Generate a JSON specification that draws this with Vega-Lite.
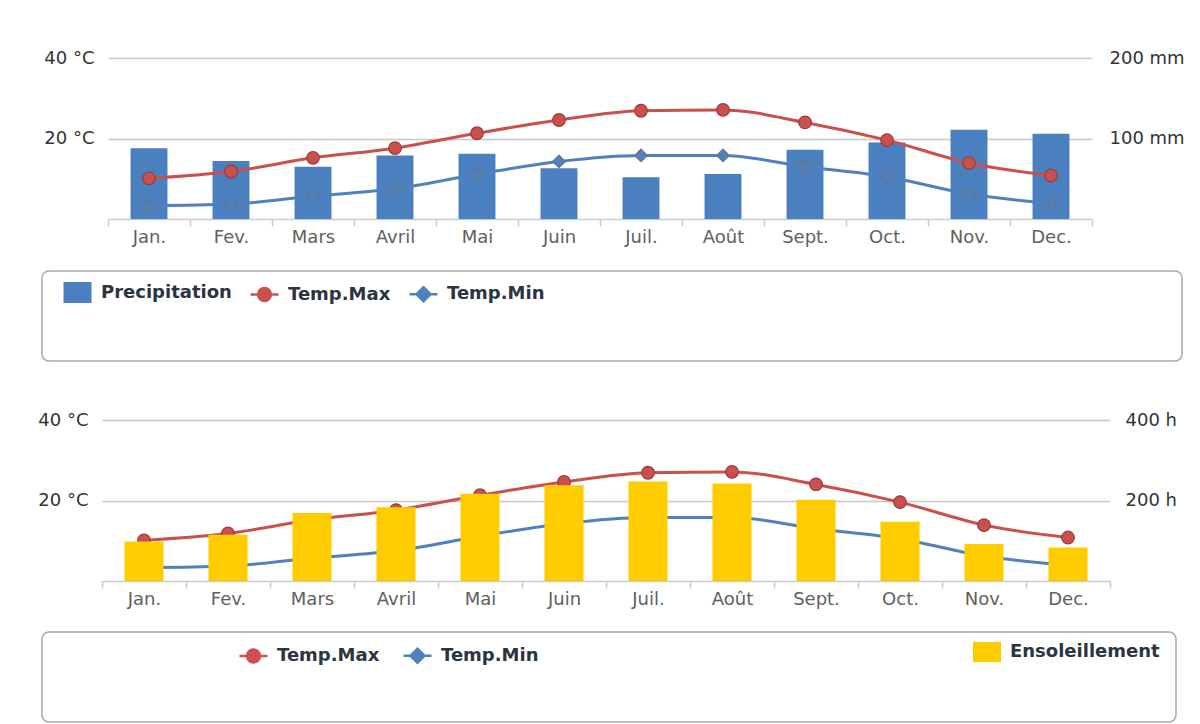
{
  "$schema": "https://vega.github.io/schema/vega-lite/v6.json",
  "padding": {"left": 37, "top": 49, "right": 0, "bottom": 0},
  "background": "white",
  "config": {
    "font": "DejaVu Sans",
    "view": {"stroke": null},
    "axis": {"labelFont": "DejaVu Sans", "labelFontSize": 18},
    "legend": {"labelFont": "DejaVu Sans"}
  },
  "datasets": {
    "temps": [
      {"month": "Jan.", "series": "Temp.Max", "value": 10.1},
      {"month": "Fev.", "series": "Temp.Max", "value": 11.8},
      {"month": "Mars", "series": "Temp.Max", "value": 15.2},
      {"month": "Avril", "series": "Temp.Max", "value": 17.6},
      {"month": "Mai", "series": "Temp.Max", "value": 21.3},
      {"month": "Juin", "series": "Temp.Max", "value": 24.6},
      {"month": "Juil.", "series": "Temp.Max", "value": 26.9},
      {"month": "Août", "series": "Temp.Max", "value": 27.1},
      {"month": "Sept.", "series": "Temp.Max", "value": 24.0},
      {"month": "Oct.", "series": "Temp.Max", "value": 19.6},
      {"month": "Nov.", "series": "Temp.Max", "value": 13.9},
      {"month": "Dec.", "series": "Temp.Max", "value": 10.8},
      {"month": "Jan.", "series": "Temp.Min", "value": 3.3},
      {"month": "Fev.", "series": "Temp.Min", "value": 3.7},
      {"month": "Mars", "series": "Temp.Min", "value": 5.7},
      {"month": "Avril", "series": "Temp.Min", "value": 7.5},
      {"month": "Mai", "series": "Temp.Min", "value": 11.1},
      {"month": "Juin", "series": "Temp.Min", "value": 14.3},
      {"month": "Juil.", "series": "Temp.Min", "value": 15.8},
      {"month": "Août", "series": "Temp.Min", "value": 15.8},
      {"month": "Sept.", "series": "Temp.Min", "value": 13.0},
      {"month": "Oct.", "series": "Temp.Min", "value": 10.5},
      {"month": "Nov.", "series": "Temp.Min", "value": 6.2},
      {"month": "Dec.", "series": "Temp.Min", "value": 3.9}
    ],
    "precip": [
      {"month": "Jan.", "series": "Precipitation", "value": 88},
      {"month": "Fev.", "series": "Precipitation", "value": 72},
      {"month": "Mars", "series": "Precipitation", "value": 65},
      {"month": "Avril", "series": "Precipitation", "value": 79},
      {"month": "Mai", "series": "Precipitation", "value": 81},
      {"month": "Juin", "series": "Precipitation", "value": 63},
      {"month": "Juil.", "series": "Precipitation", "value": 52},
      {"month": "Août", "series": "Precipitation", "value": 56},
      {"month": "Sept.", "series": "Precipitation", "value": 86},
      {"month": "Oct.", "series": "Precipitation", "value": 95},
      {"month": "Nov.", "series": "Precipitation", "value": 111},
      {"month": "Dec.", "series": "Precipitation", "value": 106}
    ],
    "sun": [
      {"month": "Jan.", "series": "Ensoleillement", "value": 98},
      {"month": "Fev.", "series": "Ensoleillement", "value": 115},
      {"month": "Mars", "series": "Ensoleillement", "value": 169},
      {"month": "Avril", "series": "Ensoleillement", "value": 183},
      {"month": "Mai", "series": "Ensoleillement", "value": 217},
      {"month": "Juin", "series": "Ensoleillement", "value": 238},
      {"month": "Juil.", "series": "Ensoleillement", "value": 247},
      {"month": "Août", "series": "Ensoleillement", "value": 242},
      {"month": "Sept.", "series": "Ensoleillement", "value": 202},
      {"month": "Oct.", "series": "Ensoleillement", "value": 147},
      {"month": "Nov.", "series": "Ensoleillement", "value": 92},
      {"month": "Dec.", "series": "Ensoleillement", "value": 83}
    ]
  },
  "spacing": 49,
  "resolve": {"scale": {"color": "independent", "fill": "independent", "stroke": "independent", "shape": "independent"}},
  "vconcat": [
    {
      "spacing": 24,
      "resolve": {"scale": {"color": "independent", "fill": "independent", "stroke": "independent", "shape": "independent"}},
      "vconcat": [
        {
          "width": 1140,
          "height": 161,
          "encoding": {
            "x": {
              "field": "month", "type": "nominal",
              "sort": ["Jan.", "Fev.", "Mars", "Avril", "Mai", "Juin", "Juil.", "Août", "Sept.", "Oct.", "Nov.", "Dec."],
              "scale": {"paddingInner": 0, "paddingOuter": 0, "range": [66, 1050]},
              "axis": {"title": null, "labelAngle": 0, "tickBand": "extent", "domainColor": "#c4ccd6", "domainWidth": 1.5, "tickColor": "#c4ccd6", "tickWidth": 1.5, "tickSize": 7, "labelPadding": 2, "labelColor": "#606060", "labelFontSize": 18, "grid": false}
            }
          },
          "layer": [
            {
              "data": {"name": "precip"},
              "mark": {"type": "bar", "width": {"band": 0.45}, "color": "#4a7fc0"},
              "encoding": {
                "y": {"field": "value", "type": "quantitative", "scale": {"domain": [0, 200]},
                  "axis": {"orient": "right", "offset": -90, "title": null, "values": [100, 200], "labelExpr": "datum.value + ' mm'", "grid": false, "domain": false, "ticks": false, "labelPadding": 17, "labelColor": "#333333", "labelFontSize": 18}}
              }
            },
            {
              "layer": [
                {
                  "data": {"name": "temps"},
                  "mark": {"type": "line", "interpolate": "monotone", "strokeWidth": 3},
                  "encoding": {
                    "y": {"field": "value", "type": "quantitative", "scale": {"domain": [0, 40]},
                      "axis": {"orient": "left", "offset": -66, "title": null, "values": [20, 40], "labelExpr": "datum.value + ' °C'", "grid": true, "gridColor": "#c8c8c8", "gridWidth": 1.5, "domain": false, "ticks": false, "labelPadding": 14, "labelColor": "#333333", "labelFontSize": 18}},
                    "color": {"field": "series", "type": "nominal", "scale": {"domain": ["Temp.Max", "Temp.Min"], "range": ["#c9504c", "#4f81bd"]}, "legend": null}
                  }
                },
                {
                  "data": {"name": "temps"},
                  "mark": {"type": "point", "filled": true, "size": 160, "strokeWidth": 1.2, "opacity": 1},
                  "encoding": {
                    "y": {"field": "value", "type": "quantitative"},
                    "color": {"field": "series", "type": "nominal", "legend": null},
                    "shape": {"field": "series", "type": "nominal", "scale": {"domain": ["Temp.Max", "Temp.Min"], "range": ["circle", "diamond"]}, "legend": null},
                    "stroke": {"field": "series", "type": "nominal", "scale": {"domain": ["Temp.Max", "Temp.Min"], "range": ["#9c3b38", "#6d7580"]}, "legend": null}
                  }
                }
              ]
            }
          ],
          "resolve": {"scale": {"y": "independent"}}
        },
        {
          "width": 1140,
          "height": 90,
          "view": {"stroke": "#a8a8a8", "strokeWidth": 1.5, "cornerRadius": 7},
          "data": {"name": "precip"},
          "mark": {"type": "point", "filled": true, "opacity": 0},
          "encoding": {
            "fill": {
              "field": "series", "type": "nominal",
              "scale": {"domain": ["Precipitation", "Temp.Max", "Temp.Min"], "range": ["#4a7fc0", "#d0504b", "#4f81bd"]},
              "legend": {"orient": "none", "legendX": 20, "legendY": 6, "direction": "horizontal", "title": null, "labelFontSize": 18, "labelFontWeight": "bold", "labelColor": "#2b3440", "symbolSize": 784, "symbolStrokeWidth": 2.5, "symbolOpacity": 1, "labelOffset": 8, "columnPadding": 13, "padding": 0}
            },
            "stroke": {
              "field": "series", "type": "nominal",
              "scale": {"domain": ["Precipitation", "Temp.Max", "Temp.Min"], "range": ["transparent", "#c9504c", "#4f81bd"]},
              "legend": {"orient": "none", "legendX": 20, "legendY": 6, "direction": "horizontal", "title": null, "labelFontSize": 18, "labelFontWeight": "bold", "labelColor": "#2b3440", "symbolSize": 784, "symbolStrokeWidth": 2.5, "symbolOpacity": 1, "labelOffset": 8, "columnPadding": 13, "padding": 0}
            },
            "shape": {
              "field": "series", "type": "nominal",
              "scale": {"domain": ["Precipitation", "Temp.Max", "Temp.Min"], "range": ["M-1,-0.75L1,-0.75L1,0.75L-1,0.75Z", "M-1,0L1,0M0.46,0A0.46,0.46 0 1,1 -0.46,0A0.46,0.46 0 1,1 0.46,0Z", "M-1,0L1,0M0,-0.5L0.5,0L0,0.5L-0.5,0Z"]},
              "legend": {"orient": "none", "legendX": 20, "legendY": 6, "direction": "horizontal", "title": null, "labelFontSize": 18, "labelFontWeight": "bold", "labelColor": "#2b3440", "symbolSize": 784, "symbolStrokeWidth": 2.5, "symbolOpacity": 1, "labelOffset": 8, "columnPadding": 13, "padding": 0}
            }
          }
        }
      ]
    },
    {
      "spacing": 23,
      "resolve": {"scale": {"color": "independent", "fill": "independent", "stroke": "independent", "shape": "independent"}},
      "vconcat": [
        {
          "width": 1134,
          "height": 161,
          "encoding": {
            "x": {
              "field": "month", "type": "nominal",
              "sort": ["Jan.", "Fev.", "Mars", "Avril", "Mai", "Juin", "Juil.", "Août", "Sept.", "Oct.", "Nov.", "Dec."],
              "scale": {"paddingInner": 0, "paddingOuter": 0, "range": [60, 1068]},
              "axis": {"title": null, "labelAngle": 0, "tickBand": "extent", "domainColor": "#c4ccd6", "domainWidth": 1.5, "tickColor": "#c4ccd6", "tickWidth": 1.5, "tickSize": 7, "labelPadding": 2, "labelColor": "#606060", "labelFontSize": 18, "grid": false}
            }
          },
          "layer": [
            {
              "layer": [
                {
                  "data": {"name": "temps"},
                  "mark": {"type": "line", "interpolate": "monotone", "strokeWidth": 3},
                  "encoding": {
                    "y": {"field": "value", "type": "quantitative", "scale": {"domain": [0, 40]},
                      "axis": {"orient": "left", "offset": -60, "title": null, "values": [20, 40], "labelExpr": "datum.value + ' °C'", "grid": true, "gridColor": "#c8c8c8", "gridWidth": 1.5, "domain": false, "ticks": false, "labelPadding": 14, "labelColor": "#333333", "labelFontSize": 18}},
                    "color": {"field": "series", "type": "nominal", "scale": {"domain": ["Temp.Max", "Temp.Min"], "range": ["#c9504c", "#4f81bd"]}, "legend": null}
                  }
                },
                {
                  "data": {"name": "temps"},
                  "mark": {"type": "point", "filled": true, "size": 160, "strokeWidth": 1.2, "opacity": 1},
                  "encoding": {
                    "y": {"field": "value", "type": "quantitative"},
                    "color": {"field": "series", "type": "nominal", "legend": null},
                    "shape": {"field": "series", "type": "nominal", "scale": {"domain": ["Temp.Max", "Temp.Min"], "range": ["circle", "diamond"]}, "legend": null},
                    "stroke": {"field": "series", "type": "nominal", "scale": {"domain": ["Temp.Max", "Temp.Min"], "range": ["#9c3b38", "#6d7580"]}, "legend": null}
                  }
                }
              ]
            },
            {
              "data": {"name": "sun"},
              "mark": {"type": "bar", "width": {"band": 0.465}, "color": "#ffcc00"},
              "encoding": {
                "y": {"field": "value", "type": "quantitative", "scale": {"domain": [0, 400]},
                  "axis": {"orient": "right", "offset": -66, "title": null, "values": [200, 400], "labelExpr": "datum.value + ' h'", "grid": false, "domain": false, "ticks": false, "labelPadding": 15, "labelColor": "#333333", "labelFontSize": 18}}
              }
            }
          ],
          "resolve": {"scale": {"y": "independent"}}
        },
        {
          "width": 1134,
          "height": 90,
          "view": {"stroke": "#a8a8a8", "strokeWidth": 1.5, "cornerRadius": 7},
          "layer": [
            {
              "data": {"name": "temps"},
              "mark": {"type": "point", "filled": true, "opacity": 0},
              "encoding": {
                "fill": {
                  "field": "series", "type": "nominal",
                  "scale": {"domain": ["Temp.Max", "Temp.Min"], "range": ["#d0504b", "#4f81bd"]},
                  "legend": {"orient": "none", "legendX": 196, "legendY": 8, "direction": "horizontal", "title": null, "labelFontSize": 18, "labelFontWeight": "bold", "labelColor": "#2b3440", "symbolSize": 784, "symbolStrokeWidth": 2.5, "symbolOpacity": 1, "labelOffset": 8, "columnPadding": 18, "padding": 0}
                },
                "stroke": {
                  "field": "series", "type": "nominal",
                  "scale": {"domain": ["Temp.Max", "Temp.Min"], "range": ["#c9504c", "#4f81bd"]},
                  "legend": {"orient": "none", "legendX": 196, "legendY": 8, "direction": "horizontal", "title": null, "labelFontSize": 18, "labelFontWeight": "bold", "labelColor": "#2b3440", "symbolSize": 784, "symbolStrokeWidth": 2.5, "symbolOpacity": 1, "labelOffset": 8, "columnPadding": 18, "padding": 0}
                },
                "shape": {
                  "field": "series", "type": "nominal",
                  "scale": {"domain": ["Temp.Max", "Temp.Min"], "range": ["M-1,0L1,0M0.46,0A0.46,0.46 0 1,1 -0.46,0A0.46,0.46 0 1,1 0.46,0Z", "M-1,0L1,0M0,-0.5L0.5,0L0,0.5L-0.5,0Z"]},
                  "legend": {"orient": "none", "legendX": 196, "legendY": 8, "direction": "horizontal", "title": null, "labelFontSize": 18, "labelFontWeight": "bold", "labelColor": "#2b3440", "symbolSize": 784, "symbolStrokeWidth": 2.5, "symbolOpacity": 1, "labelOffset": 8, "columnPadding": 18, "padding": 0}
                }
              }
            },
            {
              "data": {"name": "sun"},
              "mark": {"type": "point", "filled": true, "opacity": 0},
              "encoding": {
                "color": {
                  "field": "series", "type": "nominal",
                  "scale": {"domain": ["Ensoleillement"], "range": ["#ffcc00"]},
                  "legend": {"orient": "none", "legendX": 930, "legendY": 5, "direction": "horizontal", "title": null, "labelFontSize": 18, "labelFontWeight": "bold", "labelColor": "#2b3440", "symbolSize": 784, "symbolOpacity": 1, "symbolType": "M-1,-0.72L1,-0.72L1,0.72L-1,0.72Z", "labelOffset": 8, "padding": 0}
                }
              }
            }
          ]
        }
      ]
    }
  ]
}
